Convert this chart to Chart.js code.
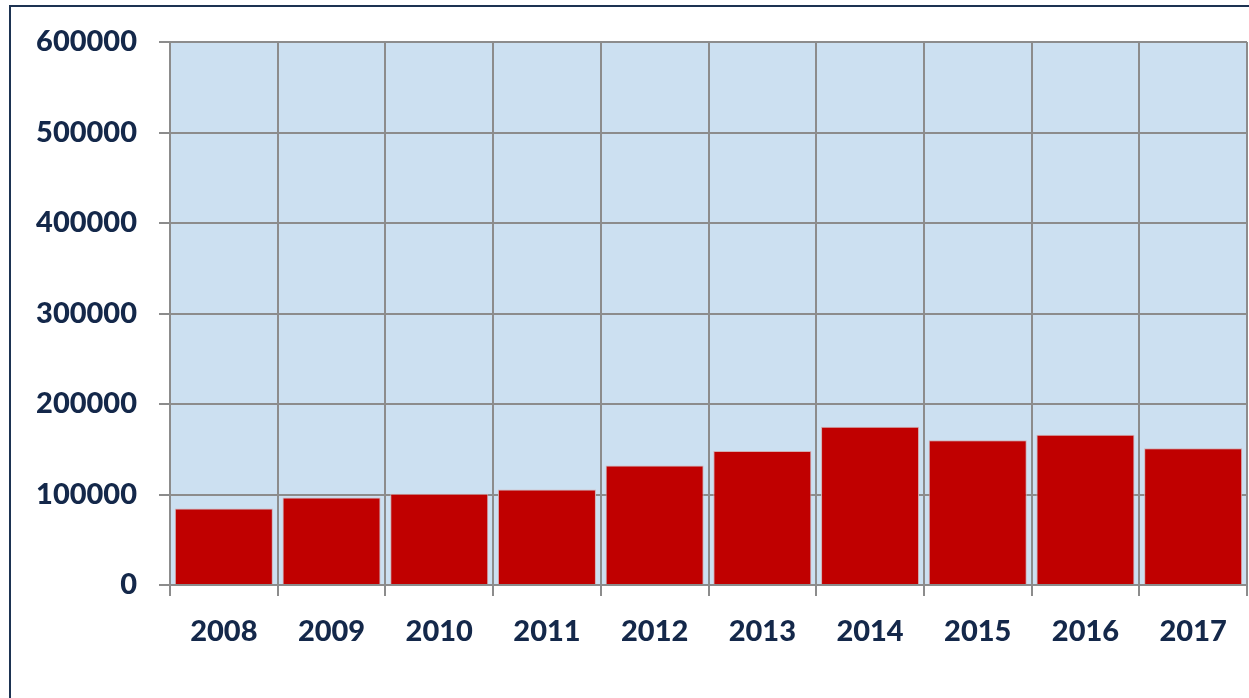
<!DOCTYPE html>
<html>
<head>
<meta charset="utf-8">
<style>
  html, body { margin: 0; padding: 0; background: #ffffff; overflow: hidden; }
  #wrap { position: relative; width: 1249px; height: 698px; }
</style>
<script src="https://cdn.jsdelivr.net/npm/chart.js@4/dist/chart.umd.min.js"></script>
</head>
<body>
<div id="wrap"><canvas id="bar-chart" width="1249" height="698"></canvas></div>
<script>
const years = ['2008', '2009', '2010', '2011', '2012', '2013', '2014', '2015', '2016', '2017'];
const values = [84400, 96700, 100800, 105500, 132000, 148000, 175000, 160000, 166000, 151000];
const yTicks = [0, 100000, 200000, 300000, 400000, 500000, 600000];

const textColor = '#14284a';
const gridColor = '#8c8c8c';

// light blue plot area plus the dark frame round the whole chart
const backdrop = {
    id: 'backdrop',
    beforeDraw(chart) {
        const { ctx, chartArea: a } = chart;
        ctx.save();
        ctx.fillStyle = '#cce0f1';
        ctx.fillRect(a.left, a.top, a.right - a.left, a.bottom - a.top);
        ctx.strokeStyle = '#1d3352';
        ctx.lineWidth = 2;
        ctx.strokeRect(10, 6, 3000, 3000);
        ctx.restore();
    }
};

document.addEventListener('DOMContentLoaded', function () {
    const canvas = document.getElementById('bar-chart');
    new Chart(canvas, {
        type: 'bar',
        data: {
            labels: years,
            datasets: [{
                data: values,
                backgroundColor: '#c00000',
                borderColor: '#d2aeb2',
                borderWidth: 1,
                barPercentage: 0.91,
                categoryPercentage: 1.0
            }]
        },
        options: {
            responsive: false,
            animation: false,
            layout: { padding: { top: 42, right: 2, left: 0, bottom: 0 } },
            plugins: {
                legend: { display: false },
                tooltip: { enabled: false }
            },
            scales: {
                x: {
                    grid: {
                        color: gridColor,
                        lineWidth: 2,
                        offset: true,
                        tickLength: 11
                    },
                    border: { color: gridColor, width: 2 },
                    ticks: {
                        color: textColor,
                        font: { family: 'Lato', weight: '900', size: 29 },
                        padding: 18,
                        maxRotation: 0
                    },
                    afterFit(scale) { scale.height = 113; }
                },
                y: {
                    min: 0,
                    max: 600000,
                    afterBuildTicks(scale) {
                        scale.ticks = yTicks.map(v => ({ value: v }));
                    },
                    grid: {
                        color: gridColor,
                        lineWidth: 2,
                        tickLength: 11
                    },
                    border: { color: gridColor, width: 2 },
                    ticks: {
                        color: textColor,
                        font: { family: 'Lato', weight: '900', size: 29 },
                        padding: 22,
                        callback: v => String(v)
                    },
                    afterFit(scale) { scale.width = 170; }
                }
            }
        },
        plugins: [backdrop]
    });
});
</script>
</body>
</html>
